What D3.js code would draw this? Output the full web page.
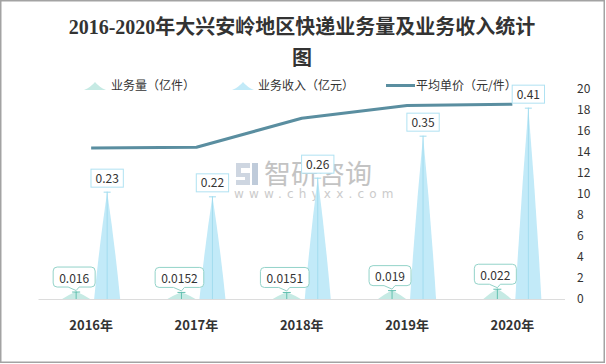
<!DOCTYPE html>
<html><head><meta charset="utf-8">
<script src="https://cdn.jsdelivr.net/npm/d3@7/dist/d3.min.js"></script>
<style>body{margin:0;background:#fff;}svg{display:block;}</style>
</head><body>
<svg id="c" width="606" height="364"></svg>
<script>
const years = ["2016年","2017年","2018年","2019年","2020年"];
const volume = [0.016, 0.0152, 0.0151, 0.019, 0.022];
const volumeLabels = ["0.016","0.0152","0.0151","0.019","0.022"];
const revenue = [0.23, 0.22, 0.26, 0.35, 0.41];
const revenueLabels = ["0.23","0.22","0.26","0.35","0.41"];
const price = [14.38, 14.45, 17.22, 18.42, 18.55];
const rightTicks = [0,2,4,6,8,10,12,14,16,18,20];
const legendNames = ["业务量（亿件）","业务收入（亿元）","平均单价（元/件）"];

const svg = d3.select("#c");
const font = "'Noto Sans CJK SC','Noto Sans',sans-serif";
const cVol = "#c6eae4", cVolLine = "#62c0b0", cVolBorder = "#93d3c9";
const cRev = "#c2eaf8", cRevLine = "#a2dcef", cRevBorder = "#b0e2f2";
const cLine = "#5a8ea0";

// frame
svg.append("rect").attr("x",0.75).attr("y",0.75).attr("width",603.5).attr("height",361.5)
  .attr("fill","#fff").attr("stroke","#a3a3a3").attr("stroke-width",1.5);

// title
const title = svg.append("text").attr("text-anchor","middle")
  .attr("font-family","'Liberation Serif','Noto Sans CJK SC',serif").attr("font-size",20)
  .attr("fill","#333").attr("font-weight","bold");
title.append("tspan").attr("x",302).attr("y",34).text("2016-2020年大兴安岭地区快递业务量及业务收入统计");
title.append("tspan").attr("x",302).attr("y",65).text("图");

const x = d3.scaleBand().domain(years).range([38.5,565]);
const yL = d3.scaleLinear().domain([0,0.45]).range([299,89]);
const yR = d3.scaleLinear().domain([0,20]).range([299,89]);
const cx = d => x(d) + x.bandwidth()/2;

// watermark
const wm = svg.append("g").attr("opacity",0.9);
wm.append("path").attr("d","M236,163 h14 v5 h-9 v5 h9 v12 h-14 v-5 h9 v-3 h-9 z").attr("fill","#c9d2de");
wm.append("path").attr("d","M252,163 h6 v22 h-6 z").attr("fill","#b9c6d6");
wm.append("text").attr("x",264).attr("y",184).attr("font-family",font).attr("font-size",27)
  .attr("fill","#bdbdbd").text("智研咨询");
wm.append("text").attr("x",234).attr("y",198).attr("font-family","'DejaVu Sans',sans-serif").attr("font-size",12)
  .attr("fill","#c6c6c6").attr("letter-spacing",5.2).text("www.chyxx.com");

// baseline
svg.append("line").attr("x1",38.5).attr("x2",565).attr("y1",299.5).attr("y2",299.5)
  .attr("stroke","#dcdcdc").attr("stroke-width",1);

// right axis labels
svg.append("g").selectAll("text").data(rightTicks).join("text")
  .attr("x",577).attr("y",d=>yR(d)+4).attr("font-family",font).attr("font-size",12)
  .attr("fill","#333").text(d=>d);

// year labels
svg.append("g").selectAll("text").data(years).join("text")
  .attr("x",d=>cx(d)).attr("y",330).attr("text-anchor","middle")
  .attr("font-family",font).attr("font-size",13).attr("font-weight","bold").attr("fill","#333").text(d=>d);

function spike(px, py, half, base){
  return `M${px-half},${base} Q${px-half*0.6},${(py+base)/2} ${px},${py} Q${px+half*0.6},${(py+base)/2} ${px+half},${base} Z`;
}

// revenue spikes
const rev = svg.append("g");
years.forEach((yr,i)=>{
  const px = cx(yr)+16, py = yL(revenue[i]), base = 299;
  rev.append("path").attr("d",spike(px,py,13,base)).attr("fill",cRev);
  rev.append("line").attr("x1",px).attr("x2",px).attr("y1",py).attr("y2",base).attr("stroke",cRevLine).attr("stroke-width",1);
  rev.append("line").attr("x1",px-3.5).attr("x2",px+3.5).attr("y1",py+0.5).attr("y2",py+0.5).attr("stroke",cRevLine).attr("stroke-width",1);
});

// volume spikes
const vol = svg.append("g");
years.forEach((yr,i)=>{
  const px = cx(yr)-15, py = yL(volume[i]), base = 299;
  vol.append("path").attr("d",spike(px,py,14,base)).attr("fill",cVol);
  vol.append("line").attr("x1",px).attr("x2",px).attr("y1",py).attr("y2",base).attr("stroke",cVolLine).attr("stroke-width",1);
  vol.append("line").attr("x1",px-4).attr("x2",px+4).attr("y1",py+0.5).attr("y2",py+0.5).attr("stroke",cVolLine).attr("stroke-width",1);
});

// average price line
const line = d3.line().x((d,i)=>cx(years[i])).y(d=>yR(d));
svg.append("path").datum(price).attr("d",line).attr("fill","none")
  .attr("stroke",cLine).attr("stroke-width",3).attr("stroke-linejoin","round");

// revenue labels
years.forEach((yr,i)=>{
  const px = cx(yr)+16, py = yL(revenue[i]);
  const g = svg.append("g");
  const t = g.append("text").attr("x",px).attr("y",py-9).attr("text-anchor","middle")
    .attr("font-family",font).attr("font-size",12).attr("fill","#333").text(revenueLabels[i]);
  const w = t.node().getComputedTextLength()+9;
  g.insert("rect","text").attr("x",px-w/2).attr("y",py-22.5).attr("width",w).attr("height",18)
    .attr("fill","#fff").attr("stroke",cRevBorder).attr("stroke-width",1);
});

// volume labels (bubbles)
years.forEach((yr,i)=>{
  const px = cx(yr)-15, py = yL(volume[i]);
  const g = svg.append("g");
  const t = g.append("text").attr("x",px-2).attr("y",py-9).attr("text-anchor","middle")
    .attr("font-family",font).attr("font-size",12).attr("fill","#333").text(volumeLabels[i]);
  const w = t.node().getComputedTextLength()+12;
  const l = px-2-w/2, r = px-2+w/2, top = py-24.5, bot = py-4.5, rr = 4;
  const d = `M${l+rr},${top} H${r-rr} Q${r},${top} ${r},${top+rr} V${bot-rr} Q${r},${bot} ${r-rr},${bot}`+
    ` H${px+3} L${px},${py-1} L${px-8},${bot} H${l+rr} Q${l},${bot} ${l},${bot-rr} V${top+rr} Q${l},${top} ${l+rr},${top} Z`;
  g.insert("path","text").attr("d",d).attr("fill","#fff").attr("stroke",cVolBorder).attr("stroke-width",1);
});

// legend
const lg = svg.append("g").attr("font-family",font).attr("font-size",12).attr("fill","#333");
lg.append("path").attr("d","M84,90 Q91,87 95,82 Q99,87 106,90 Z").attr("fill",cVol);
lg.append("text").attr("x",111).attr("y",90).text(legendNames[0]);
lg.append("path").attr("d","M232,90 Q239,87 243,82 Q247,87 254,90 Z").attr("fill",cRev);
lg.append("text").attr("x",258).attr("y",90).text(legendNames[1]);
lg.append("line").attr("x1",386).attr("x2",415).attr("y1",85.5).attr("y2",85.5).attr("stroke",cLine).attr("stroke-width",3);
lg.append("text").attr("x",416).attr("y",90).text(legendNames[2]);
</script>
</body></html>
